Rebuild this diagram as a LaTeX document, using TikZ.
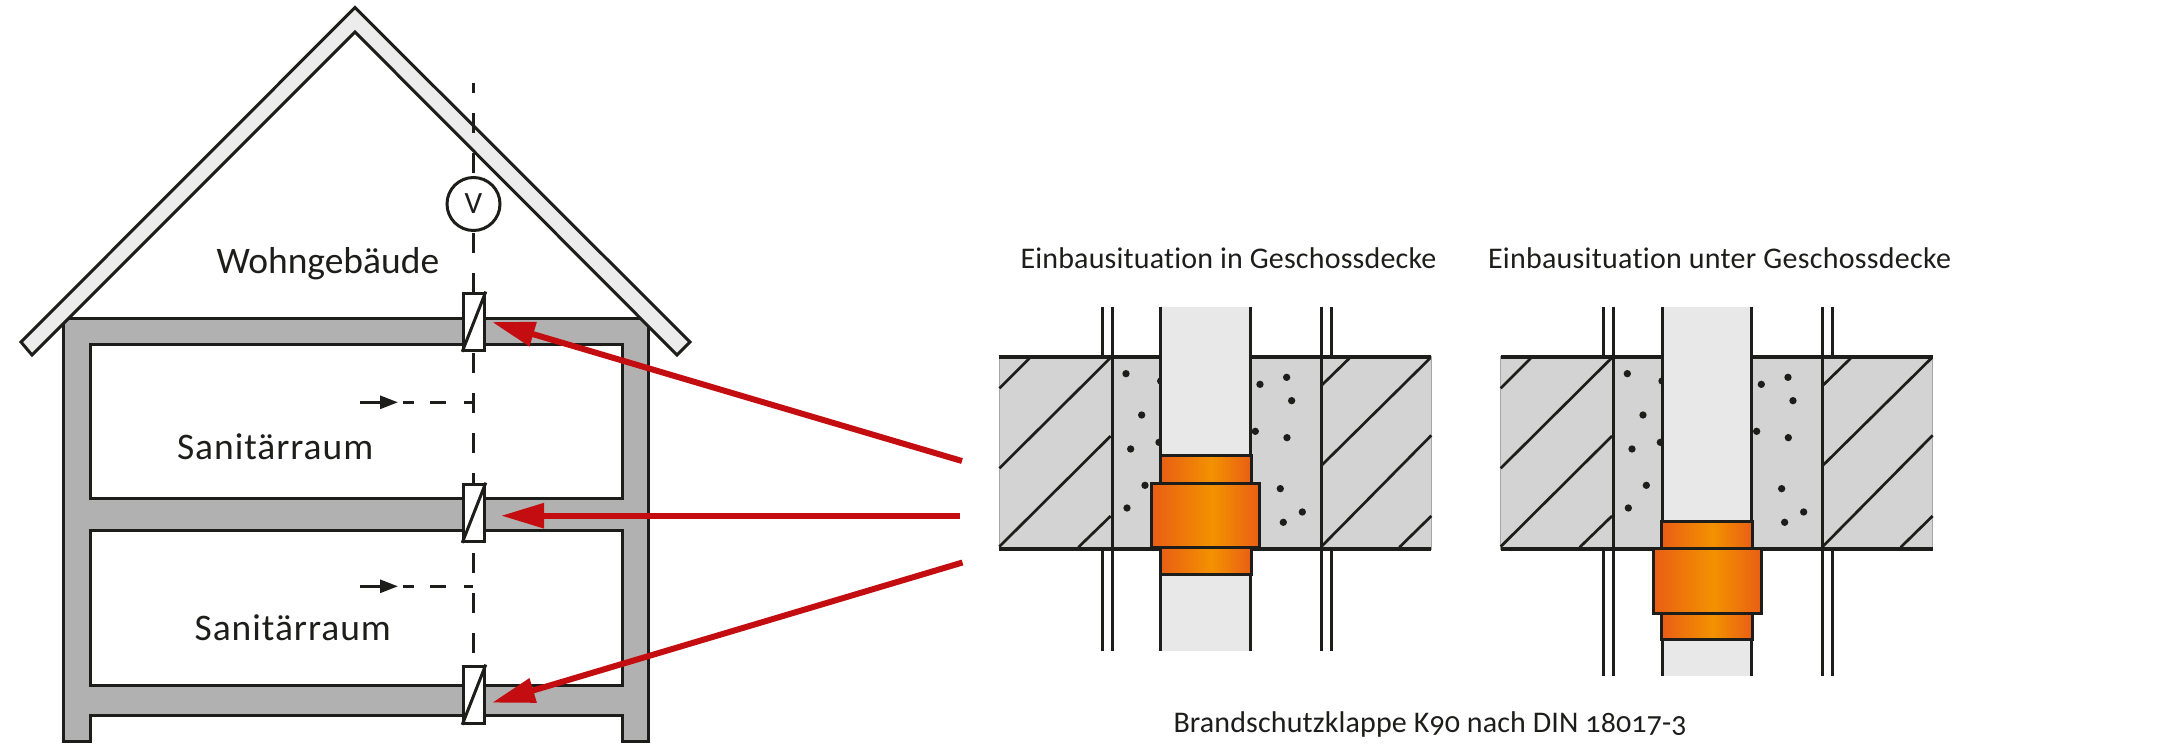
\documentclass[tikz,border=0pt]{standalone}
\usepackage{fontspec}
\setmainfont[Numbers=OldStyle,Ligatures=NoCommon]{Carlito}
\usetikzlibrary{arrows.meta}
\definecolor{ink}{HTML}{1D1D1B}
\definecolor{wall}{HTML}{B1B1B1}
\definecolor{roofc}{HTML}{ECECEC}
\definecolor{slabc}{HTML}{D3D3D3}
\definecolor{ductc}{HTML}{E8E8E8}
\definecolor{redc}{HTML}{C40D10}
\definecolor{slc}{HTML}{E95E15}
\definecolor{pkc}{HTML}{F39200}
\pgfdeclarehorizontalshading{sleeve}{100bp}{color(0bp)=(slc);color(25bp)=(slc);color(53bp)=(pkc);color(75bp)=(slc);color(100bp)=(slc)}
\tikzset{
  ln/.style={draw=ink,line width=3pt},
  redarrow/.style={draw=redc,line width=6pt,-{Triangle[length=43pt,width=24pt]},shorten >=0pt},
  flap/.style={draw=ink,fill=white,line width=3.2pt,minimum width=20.4pt,minimum height=57pt,inner sep=0pt},
  bigtxt/.style={anchor=base west,inner sep=0pt,outer sep=0pt,text=ink,font=\fontsize{37.5}{37.5}\selectfont},
  smalltxt/.style={anchor=base west,inner sep=0pt,outer sep=0pt,text=ink,font=\fontsize{30}{30}\selectfont},
}
% detail drawing: units are 1/3 px; #1 = sleeve offset, #2 = duct bottom
\newcommand{\detail}[2]{%
  \fill[slabc,draw=gray!70,line width=.7pt] (28,200) rectangle (1324,778);
  \draw[ink,line width=2.7pt]
    (28,295)--(118,205) (28,535)--(360,205) (28,770)--(362,438) (265,772)--(362,678)
    (996,285)--(1078,205) (996,525)--(1320,205) (996,768)--(1324,436) (1228,772)--(1324,678);
  \foreach \x/\y in {408/251,512/273,455/375,507/457,422/477,465/586,411/654,810/283,890/262,905/332,796/424,891/443,871/596,937/666,880/697}
    \fill[ink] (\x,\y) circle (11);
  \fill[ductc] (513,50) rectangle (781,#2);
  \draw[ink,line width=3pt] (337,50)--(337,200) (337,778)--(337,#2)
    (366,50)--(366,#2) (994,50)--(994,#2)
    (1024,50)--(1024,200) (1024,778)--(1024,#2);
  \draw[ink,line width=3pt] (513,50)--(513,#2) (781,50)--(781,#2);
  \draw[ink,line width=4pt] (28,200)--(513,200) (781,200)--(1324,200) (28,778)--(1324,778);
  \begin{scope}[yshift=#1]
    \draw[ink,line width=3pt,shade,shading=sleeve] (511,497) rectangle (785,580);
    \draw[ink,line width=3pt,shade,shading=sleeve] (511,773) rectangle (785,853);
    \draw[ink,line width=3pt,shade,shading=sleeve] (486,580) rectangle (810,773);
  \end{scope}
}
\begin{document}
\begin{tikzpicture}[x=1pt,y=-1pt]
\useasboundingbox (0,0) rectangle (2175,750);
% house body
\fill[wall,draw=ink,line width=3pt,even odd rule]
  (63.3,318.5)--(648.5,318.5)--(648.5,741.7)--(622,741.7)--(622,715.5)--(90,715.5)--(90,741.7)--(63.3,741.7)--cycle
  (90,344)--(622,344)--(622,498)--(90,498)--cycle
  (90,530)--(622,530)--(622,685)--(90,685)--cycle;
% roof
\draw[ln,fill=roofc,line join=miter] (355,7.5)--(690,342)--(677,355)--(355,32)--(32,355)--(21,342)--cycle;
% duct axis
\coordinate (axtop) at (473.5,83);
\coordinate (axbot) at (473.5,655);
\draw[ink,line width=2.8pt,dash pattern=on 20pt off 20pt,dash phase=10pt] (axtop)--(axbot);
% flaps
\node[flap] (f1) at (474,321.7) {};
\node[flap] (f2) at (474,512.8) {};
\node[flap] (f3) at (474,694.7) {};
\foreach \n in {f1,f2,f3}
  \draw[ink,line width=3pt] (\n.south west)--(\n.north east);
% fan
\node[draw=ink,fill=white,circle,line width=3pt,minimum size=53pt,inner sep=0pt,text=ink,font=\fontsize{31}{31}\selectfont] (fan) at (473.5,204) {V};
% inlet arrows
\coordinate (a1) at (360,402.3);
\coordinate (a1e) at (398,402.3);
\coordinate (a1f) at (473,402.3);
\coordinate (a2) at (360,586.3);
\coordinate (a2e) at (398,586.3);
\coordinate (a2f) at (473,586.3);
\draw[ink,line width=2.8pt,-{Triangle[length=18pt,width=13pt]}] (a1)--(a1e);
\draw[ink,line width=2.8pt,-{Triangle[length=18pt,width=13pt]}] (a2)--(a2e);
\draw[ink,line width=2.8pt,dash pattern=on 11pt off 16pt on 16pt off 18pt on 9pt off 100pt] (403,402.3)--(a1f);
\draw[ink,line width=2.8pt,dash pattern=on 11pt off 16pt on 16pt off 18pt on 9pt off 100pt] (403,586.3)--(a2f);
% labels
\node[bigtxt] (wohn) at (216.5,273) {Wohngebäude};
\node[bigtxt] (san1) at (177,459) {\addfontfeature{LetterSpace=2.6}Sanitärraum};
\node[bigtxt] (san2) at (194.6,640) {\addfontfeature{LetterSpace=2.6}Sanitärraum};
\node[smalltxt] (t1) at (1020.5,268) {\addfontfeature{LetterSpace=0.6}Einbausituation in Geschossdecke};
\node[smalltxt] (t2) at (1488,268) {\addfontfeature{LetterSpace=0.9}Einbausituation unter Geschossdecke};
\node[smalltxt] (t3) at (1173.5,732) {\addfontfeature{LetterSpace=0.45}Brandschutzklappe K90 nach DIN 18017-3};
% details
\begin{scope}[shift={(990,290)},x=0.3333pt,y=-0.3333pt]
\detail{0pt}{1082}
\end{scope}
\begin{scope}[shift={(1491.33,290)},x=0.3333pt,y=-0.3333pt]
\detail{-65.5pt}{1157}
\end{scope}
% red arrows
\coordinate (r1s) at (962,461);
\coordinate (r1e) at (492,322);
\coordinate (r2s) at (960,515.7);
\coordinate (r2e) at (501,515.7);
\coordinate (r3s) at (962.5,562.5);
\coordinate (r3e) at (492,702.7);
\draw[redarrow] (r1s)--(r1e);
\draw[redarrow] (r2s)--(r2e);
\draw[redarrow] (r3s)--(r3e);
\end{tikzpicture}
\end{document}
